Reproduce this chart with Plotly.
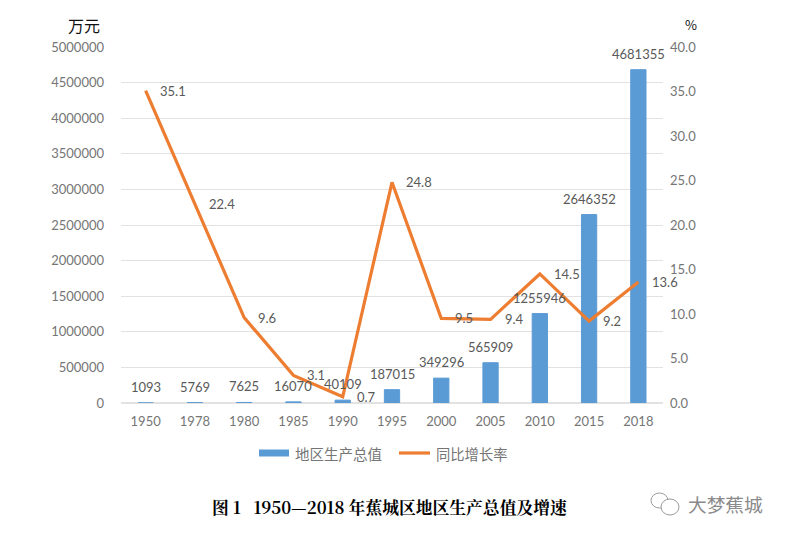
import plotly.graph_objects as go

years = ["1950", "1978", "1980", "1985", "1990", "1995", "2000", "2005", "2010", "2015", "2018"]
gdp = [1093, 5769, 7625, 16070, 40109, 187015, 349296, 565909, 1255946, 2646352, 4681355]
growth = [35.1, 22.4, 9.6, 3.1, 0.7, 24.8, 9.5, 9.4, 14.5, 9.2, 13.6]
left_ticks = [0, 500000, 1000000, 1500000, 2000000, 2500000, 3000000, 3500000, 4000000, 4500000, 5000000]
right_ticks = [0, 5, 10, 15, 20, 25, 30, 35, 40]

PAGE = 8  # default body margin of the page
W, H = 788 - PAGE, 538 - PAGE
L, R, T, B = 121 - PAGE, 125, 47 - PAGE, 135
FONT = "Lato, 'Noto Sans CJK SC', sans-serif"
CJK = "'Noto Sans CJK SC', sans-serif"
BLUE, ORANGE = "#5B9BD5", "#ED7D31"
TICK, LABEL = "#757575", "#595959"


def sx(v):
    return (v - PAGE - L) / (W - L - R)


def sy(v):
    return (H - B - (v - PAGE)) / (H - T - B)


def paper_text(x, y, text, size, color, family=CJK, bold=False, anchor="center"):
    return dict(xref="paper", yref="paper", x=sx(x), y=sy(y),
                text=f"<b>{text}</b>" if bold else text, showarrow=False, xanchor=anchor, yanchor="middle",
                font=dict(family=family, size=size, color=color))


def paper_shape(kind, x0, y0, x1, y1, **kw):
    return dict(type=kind, xref="paper", yref="paper", x0=sx(x0), x1=sx(x1), y0=sy(y0), y1=sy(y1), **kw)


fig = go.Figure()
fig.add_bar(x=years, y=gdp, name="地区生产总值", marker=dict(color=BLUE, line=dict(color=BLUE, width=1)),
            width=0.31, showlegend=False)
fig.add_scatter(x=years, y=growth, name="同比增长率", mode="lines", yaxis="y2",
                line=dict(color=ORANGE, width=3.2), showlegend=False)

annotations = [
    dict(x=i, y=v, xref="x", yref="y", text=str(v), showarrow=False, xanchor="center", yanchor="bottom", yshift=6,
         font=dict(family=FONT, size=13, color=LABEL))
    for i, v in enumerate(gdp)
]
annotations += [
    dict(x=i, y=v, xref="x", yref="y2", text=f"{v:.1f}", showarrow=False, xanchor="left", xshift=12,
         yanchor="middle", font=dict(family=FONT, size=13, color=LABEL))
    for i, v in enumerate(growth)
]
annotations += [
    paper_text(84, 25, "万元", 16, "#111111"),
    paper_text(691, 25, "%", 13, "#111111"),
    paper_text(293, 453, "地区生产总值", 14.5, TICK, anchor="left"),
    paper_text(434, 453, "同比增长率", 14.3, TICK, anchor="left"),
    paper_text(390, 507, "图 1 &nbsp; 1950—2018 年蕉城区地区生产总值及增速", 16.8, "#000000",
               family="'Noto Serif CJK SC', 'Noto Sans CJK SC', serif", bold=True),
    paper_text(725, 503, "大梦蕉城", 18.7, "#8a8a8a"),
]
shapes = [
    paper_shape("rect", 259, 449.5, 289, 456.5, fillcolor=BLUE, line_width=0),
    paper_shape("line", 399, 453, 430, 453, line=dict(color=ORANGE, width=3.2)),
    paper_shape("circle", 651, 493, 668, 508, line=dict(color="#9a9a9a", width=1), fillcolor="white"),
    paper_shape("circle", 661, 499, 679, 515, line=dict(color="#9a9a9a", width=1), fillcolor="white"),
]

fig.update_layout(
    width=W, height=H, autosize=False, margin=dict(l=L, r=R, t=T, b=B),
    paper_bgcolor="white", plot_bgcolor="white", showlegend=False, annotations=annotations, shapes=shapes,
    xaxis=dict(type="category", categoryorder="array", categoryarray=years, range=[-0.5, 10.5], ticks="",
               showgrid=False, showline=False, tickfont=dict(family=FONT, size=13, color=TICK), ticklabelstandoff=9),
    yaxis=dict(range=[0, 5000000], tickvals=left_ticks, ticktext=[str(t) for t in left_ticks], gridcolor="#E2E2E2",
               gridwidth=1, zeroline=True, zerolinecolor="#E2E2E2", tickfont=dict(family=FONT, size=13, color=TICK),
               ticks="", ticklabelstandoff=16),
    yaxis2=dict(range=[0, 40], overlaying="y", side="right", tickvals=right_ticks,
                ticktext=[f"{t:.1f}" for t in right_ticks], showgrid=False, zeroline=False,
                tickfont=dict(family=FONT, size=13, color=TICK), ticks="", ticklabelstandoff=6),
)
fig.write_html("out.html")
